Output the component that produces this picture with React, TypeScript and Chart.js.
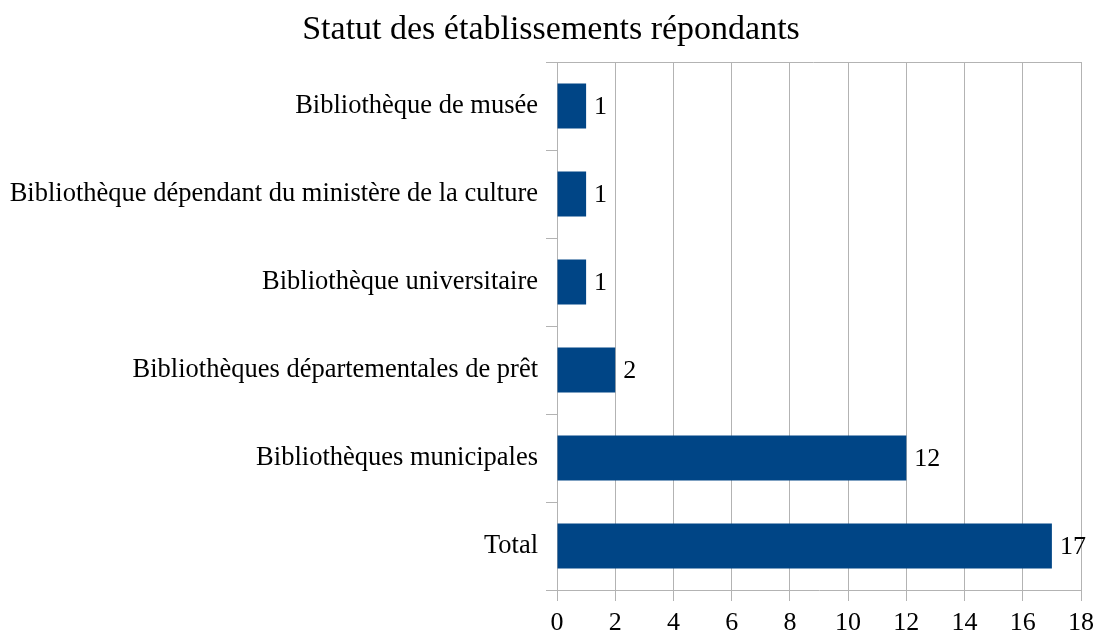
import React, { useEffect, useRef } from "react";
import { Chart, registerables } from "chart.js";

Chart.register(...registerables);

const TITLE = "Statut des établissements répondants";
const categories = [
  "Bibliothèque de musée",
  "Bibliothèque dépendant du ministère de la culture",
  "Bibliothèque universitaire",
  "Bibliothèques départementales de prêt",
  "Bibliothèques municipales",
  "Total",
];
const values = [1, 1, 1, 2, 12, 17];
const X_MIN = 0;
const X_MAX = 18;
const X_STEP = 2;

const FONT = "'Liberation Serif', 'Times New Roman', serif";
const BAR_COLOR = "#004586";
const GRID_COLOR = "#b3b3b3";

const valueLabels = {
  id: "valueLabels",
  afterDatasetsDraw(chart: any) {
    const ctx = chart.ctx;
    const meta = chart.getDatasetMeta(0);
    ctx.save();
    ctx.font = `26px ${FONT}`;
    ctx.fillStyle = "#000000";
    ctx.textAlign = "left";
    ctx.textBaseline = "middle";
    meta.data.forEach((bar: any, i: number) => {
      ctx.fillText(String(values[i]), bar.x + 8, bar.y + 1);
    });
    ctx.restore();
  },
};

const titleAndFrame = {
  id: "titleAndFrame",
  beforeDatasetsDraw(chart: any) {
    const { ctx, chartArea } = chart;
    ctx.save();
    ctx.strokeStyle = GRID_COLOR;
    ctx.lineWidth = 1;
    ctx.beginPath();
    ctx.moveTo(chartArea.left - 11, chartArea.top + 0.5);
    ctx.lineTo(chartArea.right, chartArea.top + 0.5);
    ctx.stroke();
    ctx.font = `34px ${FONT}`;
    ctx.fillStyle = "#000000";
    ctx.textAlign = "center";
    ctx.textBaseline = "middle";
    ctx.fillText(TITLE, 551, 30);
    ctx.restore();
  },
};

export default function App() {
  const ref = useRef<HTMLCanvasElement | null>(null);
  useEffect(() => {
    if (!ref.current) return;
    const chart = new Chart(ref.current, {
      type: "bar",
      data: {
        labels: categories,
        datasets: [
          {
            data: values,
            backgroundColor: BAR_COLOR,
            borderWidth: 0,
            barPercentage: 0.51,
            categoryPercentage: 1,
          },
        ],
      },
      options: {
        indexAxis: "y",
        responsive: false,
        animation: false,
        devicePixelRatio: 1,
        layout: { padding: { left: 0, right: 15, top: 62, bottom: 0 } },
        plugins: {
          legend: { display: false },
          tooltip: { enabled: false },
          title: { display: false },
        },
        scales: {
          x: {
            min: X_MIN,
            max: X_MAX,
            ticks: {
              stepSize: X_STEP,
              color: "#000000",
              font: { family: FONT, size: 26 },
              padding: 7,
              maxRotation: 0,
            },
            grid: { color: GRID_COLOR, tickLength: 11, drawTicks: true },
            border: { color: GRID_COLOR },
            afterFit(scale: any) {
              scale.height = 45;
              scale.paddingLeft = 0;
              scale.paddingRight = 0;
            },
          },
          y: {
            ticks: {
              color: "#000000",
              font: { family: FONT, size: 26.5 },
              padding: 8,
            },
            grid: {
              offset: true,
              drawOnChartArea: false,
              drawTicks: true,
              tickLength: 11,
              color: GRID_COLOR,
            },
            border: { color: GRID_COLOR },
            afterFit(scale: any) {
              scale.width = 557;
            },
          },
        },
      },
      plugins: [valueLabels, titleAndFrame],
    });
    return () => chart.destroy();
  }, []);
  return (
    <div style={{ position: "absolute", left: 0, top: 0, width: 1096, height: 635, background: "#fff" }}>
      <canvas ref={ref} width={1096} height={635} style={{ display: "block" }} />
    </div>
  );
}
